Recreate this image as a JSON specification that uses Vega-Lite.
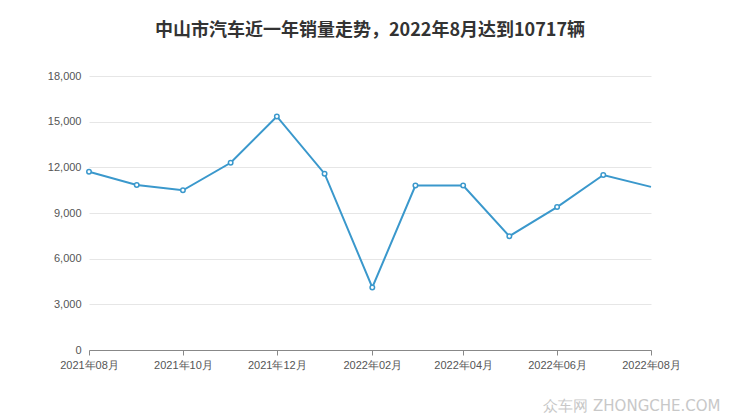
{
  "$schema": "https://vega.github.io/schema/vega-lite/v6.json",
  "width": 562,
  "height": 274,
  "autosize": {"type": "none"},
  "padding": {"left": 89, "top": 76, "right": 89, "bottom": 67},
  "background": "white",
  "title": {
    "text": "中山市汽车近一年销量走势，2022年8月达到10717辆",
    "font": "Noto Sans CJK SC",
    "fontSize": 18,
    "fontWeight": "bold",
    "color": "#333333",
    "anchor": "middle",
    "offset": 30
  },
  "config": {
    "view": {"stroke": null},
    "font": "Noto Sans CJK SC"
  },
  "data": {
    "values": [
      {"month": "2021-08-01", "sales": 11712},
      {"month": "2021-09-01", "sales": 10843},
      {"month": "2021-10-01", "sales": 10495},
      {"month": "2021-11-01", "sales": 12299},
      {"month": "2021-12-01", "sales": 15342},
      {"month": "2022-01-01", "sales": 11582},
      {"month": "2022-02-01", "sales": 4110},
      {"month": "2022-03-01", "sales": 10800},
      {"month": "2022-04-01", "sales": 10800},
      {"month": "2022-05-01", "sales": 7475},
      {"month": "2022-06-01", "sales": 9387},
      {"month": "2022-07-01", "sales": 11497},
      {"month": "2022-08-01", "sales": 10717}
    ]
  },
  "encoding": {
    "x": {
      "field": "month",
      "type": "temporal",
      "scale": {"domain": [{"year": 2021, "month": 8, "date": 1}, {"year": 2022, "month": 8, "date": 1}], "nice": false},
      "axis": {
        "title": "众车网 ZHONGCHE.COM",
        "titleAnchor": "end",
        "titleAlign": "right",
        "titleX": 631,
        "titleY": 48,
        "titleFontSize": 15,
        "titleFontWeight": "normal",
        "titleColor": "#c8c8c8",
        "titleFont": "DejaVu Sans",
        "format": "%Y年%m月",
        "values": [
          {"year": 2021, "month": 8, "date": 1},
          {"year": 2021, "month": 10, "date": 1},
          {"year": 2021, "month": 12, "date": 1},
          {"year": 2022, "month": 2, "date": 1},
          {"year": 2022, "month": 4, "date": 1},
          {"year": 2022, "month": 6, "date": 1},
          {"year": 2022, "month": 8, "date": 1}
        ],
        "grid": false,
        "domainColor": "#888888",
        "tickColor": "#888888",
        "tickSize": 5,
        "labelFont": "Liberation Sans",
        "labelFontSize": 11,
        "labelColor": "#555555",
        "labelPadding": 4,
        "labelFlush": false
      }
    },
    "y": {
      "field": "sales",
      "type": "quantitative",
      "scale": {"domain": [0, 18000], "nice": false},
      "axis": {
        "title": null,
        "values": [0, 3000, 6000, 9000, 12000, 15000, 18000],
        "format": ",d",
        "domain": false,
        "ticks": false,
        "gridColor": "#e6e6e6",
        "labelFont": "Liberation Sans",
        "labelFontSize": 11,
        "labelColor": "#555555",
        "labelPadding": 8
      }
    }
  },
  "layer": [
    {
      "mark": {"type": "line", "color": "#3a98cc", "strokeWidth": 2}
    },
    {
      "transform": [{"filter": "datum.sales != 10717"}],
      "mark": {"type": "point", "shape": "circle", "filled": true, "fill": "white", "stroke": "#3a98cc", "strokeWidth": 1.5, "size": 20, "opacity": 1}
    }
  ]
}
